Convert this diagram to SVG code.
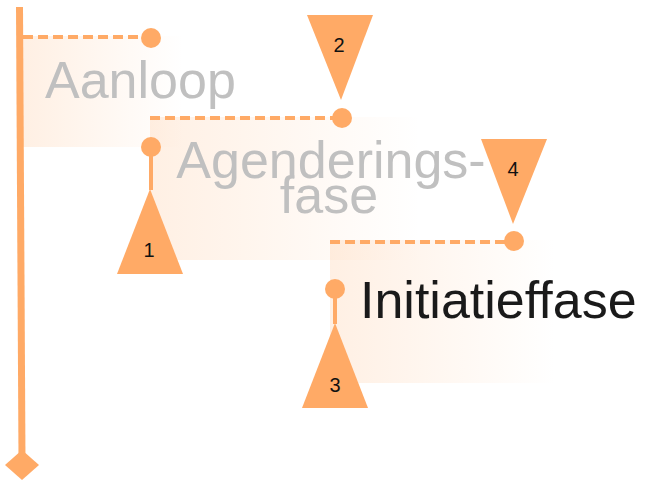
<svg xmlns="http://www.w3.org/2000/svg" width="646" height="481" viewBox="0 0 646 481">
<defs>
<linearGradient id="fade" x1="0" y1="0" x2="1" y2="0">
<stop offset="0" stop-color="#ffaa66" stop-opacity="0.18"/>
<stop offset="1" stop-color="#ffaa66" stop-opacity="0"/>
</linearGradient>
</defs>
<style>
.flag{fill:url(#fade)}
.dash{stroke:#ffaa66;stroke-width:4;stroke-dasharray:10 5;fill:none}
.dot{fill:#ffaa66}
.stick{stroke:#ffaa66;stroke-width:4}
.tri{fill:#ffaa66}
.num{font-family:"Liberation Sans",Arial,sans-serif;font-size:20px;fill:#111;text-anchor:middle}
.big{font-family:"Liberation Sans",Arial,sans-serif;font-size:52px}
.gray{fill:#c0c0c0}
.black{fill:#1a1a1a}
</style>
<rect width="646" height="481" fill="#fff"/>
<g id="pole">
<line x1="19.5" y1="7" x2="22" y2="460" stroke="#ffaa66" stroke-width="7"/>
<polygon points="22,450 39,465 22,480 5,465" fill="#ffaa66"/>
</g>
<g id="flag-aanloop">
<rect class="flag" x="23" y="36" width="160" height="111"/>
<line class="dash" x1="23" y1="37" x2="150" y2="37"/>
<circle class="dot" cx="151" cy="38" r="10"/>
<text class="big gray" x="45" y="98">Aanloop</text>
</g>
<g id="flag-agendering">
<rect class="flag" x="150" y="117" width="270" height="143"/>
<line class="dash" x1="150" y1="118" x2="340" y2="118"/>
<circle class="dot" cx="342" cy="118" r="10"/>
<circle class="dot" cx="151" cy="147" r="10"/>
<line class="stick" x1="151" y1="147" x2="151" y2="190"/>
<text class="big gray" text-anchor="middle"><tspan x="331" y="178">Agenderings-</tspan><tspan x="329" y="213">fase</tspan></text>
</g>
<g id="flag-initiatief">
<rect class="flag" x="330" y="240" width="225" height="143"/>
<line class="dash" x1="330" y1="242" x2="512" y2="242"/>
<circle class="dot" cx="514" cy="241" r="10"/>
<circle class="dot" cx="335" cy="289" r="10"/>
<line class="stick" x1="335" y1="289" x2="335" y2="324"/>
<text class="big black" x="360" y="318">Initiatieffase</text>
</g>
<g id="marker-1">
<polygon class="tri" points="150,189 183,274 117,274"/>
<text class="num" x="149" y="257">1</text>
</g>
<g id="marker-2">
<polygon class="tri" points="307,15 373,15 341,100"/>
<text class="num" x="339" y="52">2</text>
</g>
<g id="marker-3">
<polygon class="tri" points="335,323 368,408 302,408"/>
<text class="num" x="335" y="392">3</text>
</g>
<g id="marker-4">
<polygon class="tri" points="481,139 547,139 513,224"/>
<text class="num" x="513" y="176">4</text>
</g>
</svg>
